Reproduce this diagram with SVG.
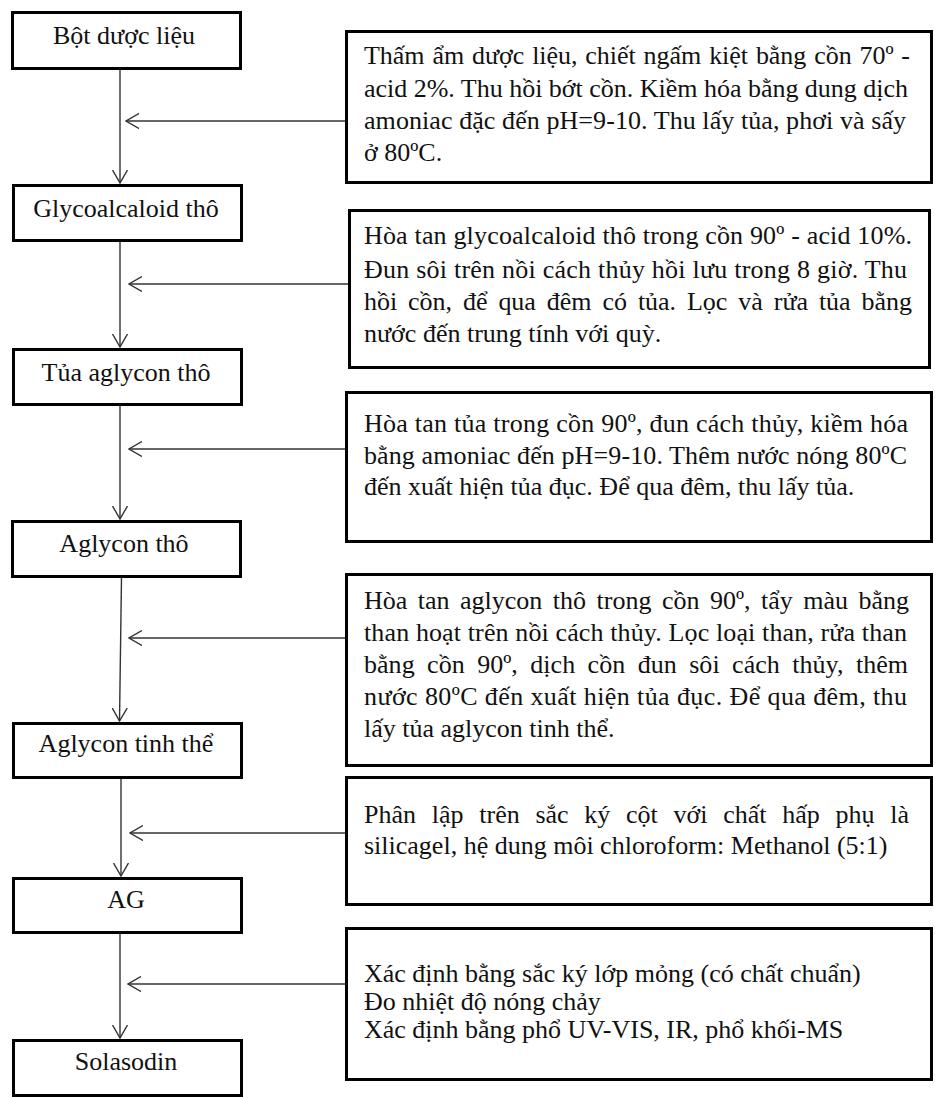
<svg xmlns="http://www.w3.org/2000/svg" width="935" height="1098" viewBox="0 0 935 1098">
<style>
.box{fill:#fff;stroke:#000;stroke-width:3}
.lbl{font-family:"Liberation Serif","Times New Roman",serif;font-size:26px;fill:#111;text-anchor:middle}
.txt{font-family:"Liberation Serif","Times New Roman",serif;font-size:26px;fill:#111}
.con{fill:none;stroke:#333;stroke-width:1.4;marker-end:url(#arr)}
</style>
<defs>
<marker id="arr" viewBox="0 0 14 16" refX="13" refY="8" markerWidth="14" markerHeight="16" markerUnits="userSpaceOnUse" orient="auto">
<path d="M0,0.5 L13,8 L0,15.5" fill="none" stroke="#333" stroke-width="1.4"/>
</marker>
</defs>
<rect width="935" height="1098" fill="#fff"/>
<g id="connectors">
<line class="con" x1="120" y1="70" x2="120" y2="183"/>
<line class="con" x1="120" y1="241" x2="120" y2="347"/>
<line class="con" x1="120" y1="405" x2="120" y2="519"/>
<line class="con" x1="121.5" y1="577" x2="119.5" y2="721"/>
<line class="con" x1="121" y1="778" x2="121" y2="876"/>
<line class="con" x1="120" y1="933" x2="120" y2="1038"/>
<line class="con" x1="345" y1="121" x2="126" y2="121"/>
<line class="con" x1="348" y1="284" x2="129" y2="284"/>
<line class="con" x1="345" y1="449" x2="129" y2="449"/>
<line class="con" x1="345" y1="638" x2="129" y2="638"/>
<line class="con" x1="345" y1="833" x2="130" y2="833"/>
<line class="con" x1="345" y1="984" x2="128" y2="984"/>
</g>
<g id="n1"><rect class="box" x="12.5" y="12.5" width="228" height="56"/><text class="lbl" x="124" y="44">Bột dược liệu</text></g>
<g id="n2"><rect class="box" x="13.5" y="185.5" width="228" height="55"/><text class="lbl" x="126" y="217">Glycoalcaloid thô</text></g>
<g id="n3"><rect class="box" x="13.5" y="349.5" width="228" height="55"/><text class="lbl" x="126" y="381">Tủa aglycon thô</text></g>
<g id="n4"><rect class="box" x="12.5" y="521.5" width="228" height="55"/><text class="lbl" x="124" y="552">Aglycon thô</text></g>
<g id="n5"><rect class="box" x="13.5" y="723.5" width="228" height="54"/><text class="lbl" x="126" y="752">Aglycon tinh thể</text></g>
<g id="n6"><rect class="box" x="13.5" y="878.5" width="228" height="54"/><text class="lbl" x="126" y="908">AG</text></g>
<g id="n7"><rect class="box" x="13.5" y="1040.5" width="228" height="55"/><text class="lbl" x="126" y="1070">Solasodin</text></g>
<g id="s1"><rect class="box" x="346.5" y="31.5" width="585" height="151"/>
<text class="txt" x="364" y="64" word-spacing="1.4" textLength="546" lengthAdjust="spacing">Thấm ẩm dược liệu, chiết ngấm kiệt bằng cồn 70º -</text>
<text class="txt" x="364" y="97" textLength="544" lengthAdjust="spacing">acid 2%. Thu hồi bớt cồn. Kiềm hóa bằng dung dịch</text>
<text class="txt" x="364" y="129" textLength="542" lengthAdjust="spacing">amoniac đặc đến pH=9-10. Thu lấy tủa, phơi và sấy</text>
<text class="txt" x="364" y="161">ở 80ºC.</text></g>
<g id="s2"><rect class="box" x="349.5" y="210.5" width="580" height="157"/>
<text class="txt" x="364" y="244" textLength="548" lengthAdjust="spacing">Hòa tan glycoalcaloid thô trong cồn 90º - acid 10%.</text>
<text class="txt" x="364" y="278" textLength="543" lengthAdjust="spacing">Đun sôi trên nồi cách thủy hồi lưu trong 8 giờ. Thu</text>
<text class="txt" x="364" y="310" word-spacing="4.5" textLength="548" lengthAdjust="spacing">hồi cồn, để qua đêm có tủa. Lọc và rửa tủa bằng</text>
<text class="txt" x="364" y="342">nước đến trung tính với quỳ.</text></g>
<g id="s3"><rect class="box" x="346.5" y="392.5" width="585" height="149"/>
<text class="txt" x="364" y="432" textLength="544" lengthAdjust="spacing">Hòa tan tủa trong cồn 90º, đun cách thủy, kiềm hóa</text>
<text class="txt" x="364" y="464" textLength="543" lengthAdjust="spacing">bằng amoniac đến pH=9-10. Thêm nước nóng 80ºC</text>
<text class="txt" x="364" y="495">đến xuất hiện tủa đục. Để qua đêm, thu lấy tủa.</text></g>
<g id="s4"><rect class="box" x="346.5" y="574.5" width="585" height="191"/>
<text class="txt" x="364" y="609" word-spacing="4" textLength="545" lengthAdjust="spacing">Hòa tan aglycon thô trong cồn 90º, tẩy màu bằng</text>
<text class="txt" x="364" y="641" textLength="543" lengthAdjust="spacing">than hoạt trên nồi cách thủy. Lọc loại than, rửa than</text>
<text class="txt" x="364" y="673" word-spacing="5.9" textLength="544" lengthAdjust="spacing">bằng cồn 90º, dịch cồn đun sôi cách thủy, thêm</text>
<text class="txt" x="364" y="705" textLength="543" lengthAdjust="spacing">nước 80ºC đến xuất hiện tủa đục. Để qua đêm, thu</text>
<text class="txt" x="364" y="737">lấy tủa aglycon tinh thể.</text></g>
<g id="s5"><rect class="box" x="346.5" y="777.5" width="585" height="127"/>
<text class="txt" x="364" y="823" word-spacing="9.2" textLength="545" lengthAdjust="spacing">Phân lập trên sắc ký cột với chất hấp phụ là</text>
<text class="txt" x="364" y="854">silicagel, hệ dung môi chloroform: Methanol (5:1)</text></g>
<g id="s6"><rect class="box" x="346.5" y="928.5" width="585" height="151"/>
<text class="txt" x="364" y="982">Xác định bằng sắc ký lớp mỏng (có chất chuẩn)</text>
<text class="txt" x="364" y="1010">Đo nhiệt độ nóng chảy</text>
<text class="txt" x="364" y="1038">Xác định bằng phổ UV-VIS, IR, phổ khối-MS</text></g>
</svg>
